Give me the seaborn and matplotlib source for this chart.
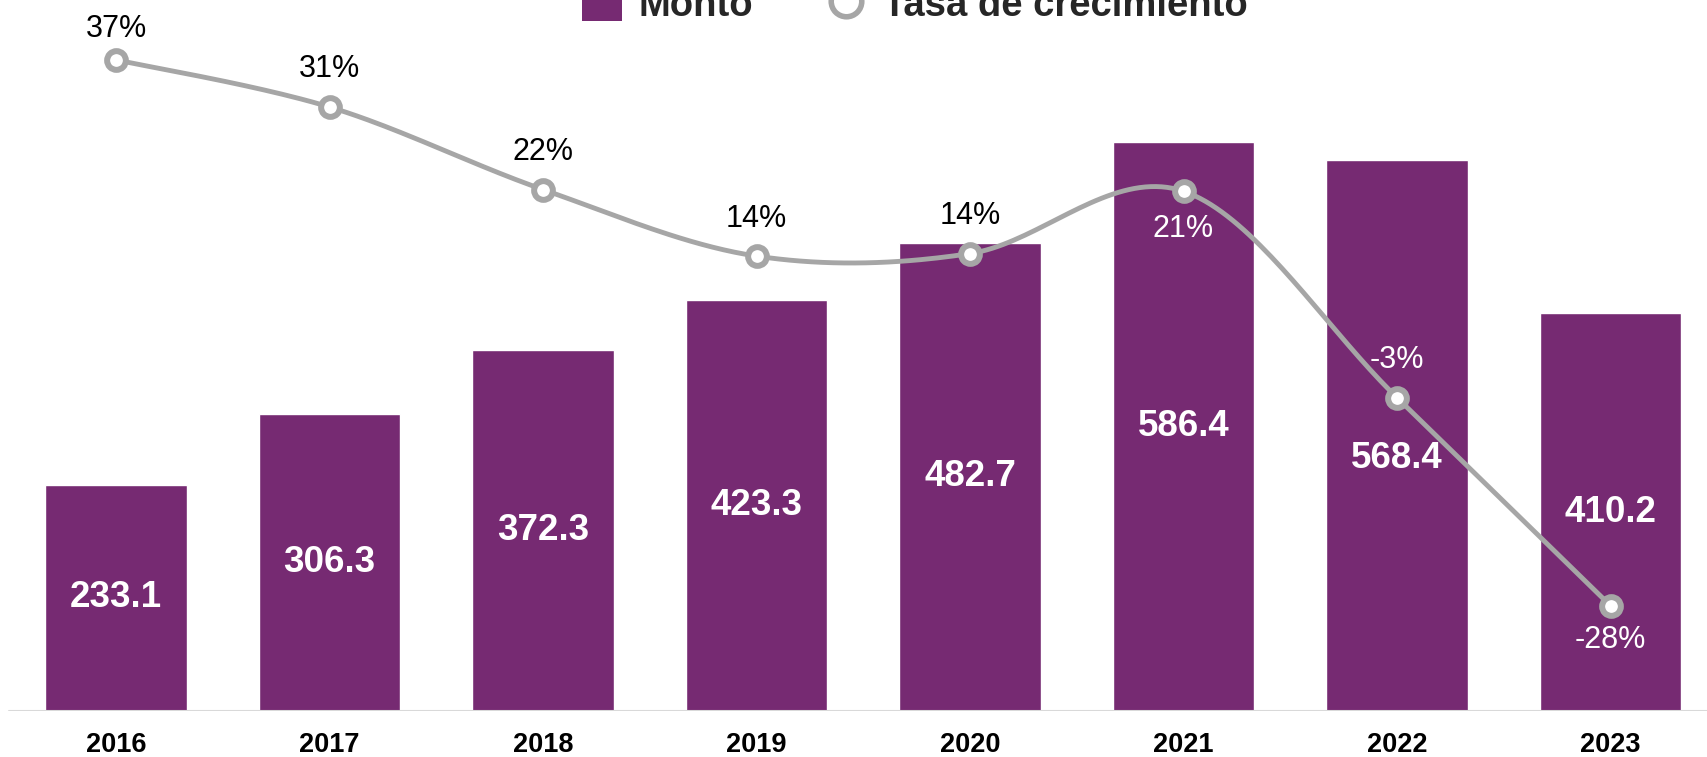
import numpy as np
import pandas as pd
import matplotlib
matplotlib.use("Agg")
import matplotlib.pyplot as plt
from matplotlib.patches import Patch
from matplotlib.lines import Line2D
import seaborn as sns

# ---- data ----
years = ["2016", "2017", "2018", "2019", "2020", "2021", "2022", "2023"]
monto = [233.1, 306.3, 372.3, 423.3, 482.7, 586.4, 568.4, 410.2]
tasa = [37.0, 31.4, 21.6, 13.7, 14.0, 21.4, -3.1, -27.8]
legend_labels = ["Monto", "Tasa de crecimiento"]

# ---- style ----
PURPLE = "#762A72"
GRAY = "#A6A6A6"
pct_off = [22, 27, 27, 27, 27, -27, 27, -25]
pct_col = ["black"] * 5 + ["white"] * 3
val_off = [0, 0, 0, 0, 0, 0, -17, 0]

sns.set_theme(style="white")
plt.rcParams["font.family"] = ["Liberation Sans", "DejaVu Sans"]

fig = plt.figure(figsize=(17.07, 7.57), dpi=100)
ax = fig.add_axes([0.0, 46 / 757, 1.0, 1 - 46 / 757])

df = pd.DataFrame({"year": years, "monto": monto})
sns.barplot(data=df, x="year", y="monto", color=PURPLE, width=0.665,
            saturation=1, ax=ax, zorder=2)

ax.set_xlim(-116 / 213.5, (1707 - 116) / 213.5)
ax.set_ylim(0, 732.8)
for s in ax.spines.values():
    s.set_visible(False)
ax.axhline(0, xmin=9 / 1707, xmax=1, color="#D9D9D9", lw=1.5, zorder=3)
ax.set_yticks([])
ax.set_xlabel("")
ax.set_ylabel("")
ax.tick_params(axis="x", length=0, pad=15)
for lab in ax.get_xticklabels():
    lab.set_fontsize(19.5)
    lab.set_fontweight("bold")
    lab.set_color("black")

for i, v in enumerate(monto):
    ax.annotate(f"{v:.1f}", (i, v / 2), xytext=(0, val_off[i]),
                textcoords="offset points", ha="center", va="center",
                fontsize=26.5, fontweight="bold", color="white", zorder=5)

# ---- secondary axis: growth rate ----
ax2 = ax.twinx()
ax2.set_ylim(-40.3, 44.1)
ax2.set_yticks([])
for s in ax2.spines.values():
    s.set_visible(False)

x = np.arange(len(tasa), dtype=float)
y = np.array(tasa, dtype=float)
px = np.concatenate([[x[0]], x, [x[-1]]])
py = np.concatenate([[y[0]], y, [y[-1]]])
sx, sy = [], []
t = np.linspace(0, 1, 40)
for k in range(1, len(px) - 2):
    p0, p1, p2, p3 = [np.array([px[j], py[j]]) for j in (k - 1, k, k + 1, k + 2)]
    c1 = p1 + (p2 - p0) / 6
    c2 = p2 - (p3 - p1) / 6
    for tt in t:
        b = ((1 - tt) ** 3) * p1 + 3 * ((1 - tt) ** 2) * tt * c1 + 3 * (1 - tt) * tt ** 2 * c2 + tt ** 3 * p2
        sx.append(b[0]); sy.append(b[1])
ax2.plot(sx, sy, color=GRAY, lw=3.5, solid_capstyle="round", zorder=4)
ax2.plot(x, y, ls="none", marker="o", ms=13.5, mfc="white", mec=GRAY, mew=4.3, zorder=5)

for i, v in enumerate(tasa):
    ax2.annotate(f"{round(v)}%", (i, v), xytext=(0, pct_off[i]),
                 textcoords="offset points", ha="center", va="center",
                 fontsize=22, color=pct_col[i], zorder=6)

# ---- legend (partially cut at top like the reference) ----
handles = [Patch(facecolor=PURPLE, edgecolor="none"),
           Line2D([], [], ls="none", marker="o", ms=22, mfc="white", mec=GRAY, mew=4)]
fig.legend(handles, legend_labels, loc="lower center", ncol=2,
           bbox_to_anchor=(0.536, 0.968), frameon=False, borderaxespad=0,
           borderpad=0, prop={"size": 27.5, "weight": "bold"},
           handlelength=1.05, handleheight=1.05, handletextpad=0.45,
           columnspacing=1.9)

fig.savefig("out.png", dpi=100)
